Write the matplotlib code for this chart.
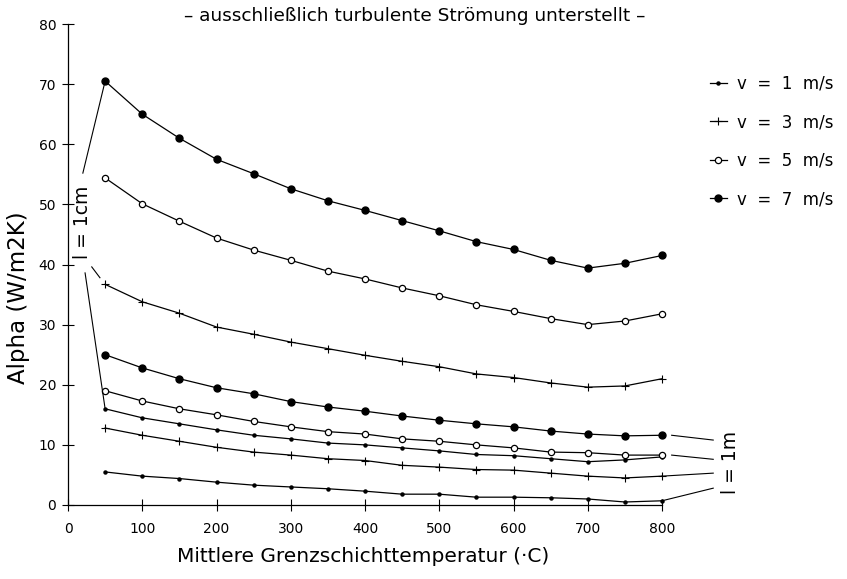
import matplotlib
matplotlib.use('Agg')
import matplotlib.pyplot as plt

# Mittlere Grenzschichttemperatur in degC
temps = [50, 100, 150, 200, 250, 300, 350, 400, 450, 500, 550, 600, 650, 700, 750, 800]

# l = 1cm
v7_cm = [70.5, 65.0, 61.0, 57.5, 55.1, 52.6, 50.6, 49.0, 47.3, 45.6, 43.8, 42.5, 40.7, 39.4, 40.2, 41.5]
v5_cm = [54.4, 50.1, 47.2, 44.4, 42.4, 40.7, 38.9, 37.6, 36.1, 34.8, 33.3, 32.2, 31.0, 30.0, 30.6, 31.8]
v3_cm = [36.7, 33.8, 31.9, 29.6, 28.4, 27.1, 26.0, 24.9, 23.9, 23.0, 21.8, 21.2, 20.3, 19.6, 19.8, 21.0]
v1_cm = [16.0, 14.5, 13.5, 12.5, 11.6, 11.0, 10.3, 10.0, 9.5, 9.0, 8.4, 8.2, 7.7, 7.2, 7.5, 8.0]

# l = 1m
v7_m = [25.0, 22.8, 21.0, 19.5, 18.5, 17.2, 16.3, 15.6, 14.8, 14.1, 13.5, 13.0, 12.3, 11.8, 11.5, 11.6]
v5_m = [19.0, 17.3, 16.0, 15.0, 13.9, 13.0, 12.2, 11.8, 11.0, 10.6, 10.0, 9.5, 8.8, 8.7, 8.3, 8.3]
v3_m = [12.8, 11.6, 10.6, 9.6, 8.8, 8.3, 7.7, 7.4, 6.6, 6.3, 5.9, 5.8, 5.3, 4.8, 4.5, 4.8]
v1_m = [5.5, 4.8, 4.4, 3.8, 3.3, 3.0, 2.7, 2.3, 1.8, 1.8, 1.3, 1.3, 1.2, 1.0, 0.5, 0.7]

labels = ['v  =  1  m/s', 'v  =  3  m/s', 'v  =  5  m/s', 'v  =  7  m/s']
# where the bracket strokes for l = 1m end on the right
m_bracket_ends = [2.8, 5.3, 7.6, 10.8]

plt.rcParams['font.family'] = ['DejaVu Sans']

fig = plt.figure(figsize=(8.47, 5.79), dpi=100)
ax = fig.add_axes([68 / 847, 74 / 579, 594 / 847, 481 / 579])

styles = [
    dict(marker='o', ms=2.2, mfc='k', mec='k'),
    dict(marker='+', ms=6, mew=0.8, mec='k'),
    dict(marker='o', ms=4.5, mfc='white', mec='k', mew=0.9),
    dict(marker='o', ms=5, mfc='k', mec='k'),
]

handles = []
for vals, st in zip([v1_cm, v3_cm, v5_cm, v7_cm], styles):
    ax.plot(temps, vals, color='k', lw=0.9, clip_on=False, **st)
for vals, st in zip([v1_m, v3_m, v5_m, v7_m], styles):
    h, = ax.plot(temps, vals, color='k', lw=0.9, clip_on=False, **st)
    handles.append(h)

# bracket l = 1cm
ax.plot([temps[0], 20], [v7_cm[0], 55.2], color='k', lw=0.8, clip_on=False)
ax.plot([23, temps[0]], [38.6, v1_cm[0]], color='k', lw=0.8, clip_on=False)
ax.plot([32, 43], [39.6, 37.8], color='k', lw=0.8, clip_on=False)
ax.text(19, 47, 'l = 1cm', rotation=90, ha='center', va='center', fontsize=13.5)

# bracket l = 1m
for vals, yend in zip([v1_m, v3_m, v5_m, v7_m], m_bracket_ends):
    x0 = temps[-1] if vals is v1_m or vals is v3_m else temps[-1] + 13
    ax.plot([x0, 869], [vals[-1], yend], color='k', lw=0.8, clip_on=False)
ax.text(892, 7, 'l = 1m', rotation=90, ha='center', va='center', fontsize=13.5)

ax.set_xlim(0, 800)
ax.set_ylim(0, 80)
ax.set_xticks(range(0, 801, 100))
ax.set_yticks(range(0, 81, 10))
ax.spines['top'].set_visible(False)
ax.spines['right'].set_visible(False)
ax.spines['left'].set_linewidth(0.9)
ax.spines['bottom'].set_linewidth(0.9)
ax.tick_params(axis='both', direction='inout', length=9, width=0.8, labelsize=10)
ax.tick_params(axis='x', pad=8)
ax.tick_params(axis='y', pad=4)

ax.legend(handles, labels, loc='upper left', bbox_to_anchor=(710 / 847, 1 - 75 / 579),
          bbox_transform=fig.transFigure, frameon=False, fontsize=12,
          handlelength=1.0, handletextpad=0.6, labelspacing=1.22,
          borderpad=0, borderaxespad=0, numpoints=1)

fig.text(415 / 847, 1 - 16 / 579, '\u2013 ausschlie\u00dflich turbulente Str\u00f6mung unterstellt \u2013',
         ha='center', va='center', fontsize=13.3)
fig.text(363 / 847, 1 - 557 / 579, 'Mittlere Grenzschichttemperatur (\u00b7C)',
         ha='center', va='center', fontsize=14.5)
fig.text(19 / 847, 1 - 298 / 579, 'Alpha (W/m2K)', rotation=90,
         ha='center', va='center', fontsize=16.5)

fig.savefig('out.png', dpi=100)
